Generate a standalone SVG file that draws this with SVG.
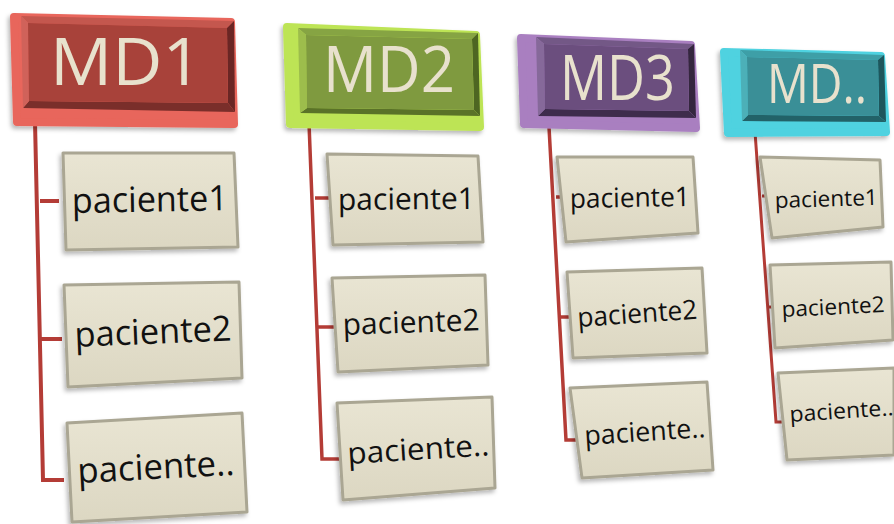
<svg xmlns="http://www.w3.org/2000/svg" width="894" height="524" viewBox="0 0 894 524">
<defs>
<linearGradient id="box" x1="0" y1="0" x2="0" y2="1"><stop offset="0" stop-color="#e9e5d3"/><stop offset="1" stop-color="#dcd7c2"/></linearGradient>
<filter id="sh" x="-10%" y="-10%" width="120%" height="130%"><feDropShadow dx="-2" dy="3" stdDeviation="2" flood-color="#000" flood-opacity="0.28"/></filter>
</defs>
<style>
.ext{stroke-linejoin:round;stroke-width:8;filter:url(#sh)}
.hd{font-family:"Open Sans","Liberation Sans",sans-serif;fill:#e8e1cd}
.box{fill:url(#box);stroke:#aaa693;stroke-width:3;stroke-linejoin:round;filter:url(#sh)}
.bx{font-family:"Open Sans","Liberation Sans",sans-serif;fill:#111}
.con{fill:none;stroke:#b43c36;stroke-linejoin:miter}
</style>

<g id="connectors">
<path class="con" stroke-width="4" d="M35,122 L43,480 L64,480 M40,201 L59,201 M41,339 L62,339"/>
<path class="con" stroke-width="3.5" d="M309,123 L322,459 L342,459 M315,198 L333,198 M318,327 L337,327"/>
<path class="con" stroke-width="3.5" d="M549,127 L566,440 L584,440 M556,197 L570,197 M561,317 L578,317"/>
<path class="con" stroke-width="3" d="M755,132 L776,422 L790,422 M762,196 L775,196 M769,307 L783,307"/>
</g>

<g id="md1">
<path class="ext" fill="#e8665b" stroke="#e8665b" d="M14,17 L231,22 L234,124 L17,122 Z"/>
<polygon fill="#c4574e" points="21,16 234,21 227,28 28,23"/>
<polygon fill="#6a2624" points="234,21 235,112 228,103 227,28"/>
<polygon fill="#7a2e2a" points="235,112 23,108 29,101 228,103"/>
<polygon fill="#d0625a" points="23,108 21,16 28,23 29,101"/>
<polygon fill="#a8423a" points="28,23 227,28 228,103 29,101"/>
<text class="hd" x="50" y="85" font-size="66" textLength="152" lengthAdjust="spacingAndGlyphs">MD1</text>
</g>
<g id="md2">
<path class="ext" fill="#bde455" stroke="#bde455" d="M287,27 L476,35 L480,127 L290,124 Z"/>
<polygon fill="#86a443" points="298,28 478,33 472,39 306,35"/>
<polygon fill="#4e6622" points="478,33 480,116 474,110 472,39"/>
<polygon fill="#5a7228" points="480,116 300,113 307,108 474,110"/>
<polygon fill="#9dbd4c" points="300,113 298,28 306,35 307,108"/>
<polygon fill="#7f9a3f" points="306,35 472,39 474,110 307,108"/>
<text class="hd" x="323" y="92" font-size="64" textLength="132" lengthAdjust="spacingAndGlyphs">MD2</text>
</g>
<g id="md3">
<path class="ext" fill="#a97fc0" stroke="#a97fc0" d="M521,38 L691,45 L696,128 L524,124 Z"/>
<polygon fill="#735886" points="536,37 694,44 688,49 544,44"/>
<polygon fill="#34263e" points="694,44 696,118 689,111 688,49"/>
<polygon fill="#3e2c4c" points="696,118 538,116 545,109 689,111"/>
<polygon fill="#86699a" points="538,116 536,37 544,44 545,109"/>
<polygon fill="#6b4e7e" points="544,44 688,49 689,111 545,109"/>
<text class="hd" x="560" y="100" font-size="62" textLength="115" lengthAdjust="spacingAndGlyphs">MD3</text>
</g>
<g id="md4">
<path class="ext" fill="#4fd2e0" stroke="#4fd2e0" d="M724,52 L881,56 L886,132 L728,133 Z"/>
<polygon fill="#3e9fa7" points="740,50 884,55 878,60 747,57"/>
<polygon fill="#1e565c" points="884,55 886,122 879,116 878,60"/>
<polygon fill="#226268" points="886,122 742,121 748,115 879,116"/>
<polygon fill="#4cb0b8" points="742,121 740,50 747,57 748,115"/>
<polygon fill="#3a8f97" points="747,57 878,60 879,116 748,115"/>
<text class="hd" x="767" y="103" font-size="55" textLength="100" lengthAdjust="spacingAndGlyphs">MD..</text>
</g>

<g id="c1p1"><path class="box" d="M63,153 L234,153 L238,247 L66,250 Z"/>
<text class="bx" x="72" y="213" font-size="35" textLength="156" lengthAdjust="spacingAndGlyphs" transform="rotate(-1 72 213)">paciente1</text></g>
<g id="c1p2"><path class="box" d="M64,285 L239,282 L242,378 L68,387 Z"/>
<text class="bx" x="75" y="347" font-size="35" textLength="157" lengthAdjust="spacingAndGlyphs" transform="rotate(-2.4 75 347)">paciente2</text></g>
<g id="c1p3"><path class="box" d="M67,423 L242,413 L247,512 L72,522 Z"/>
<text class="bx" x="78" y="483" font-size="35" textLength="157" lengthAdjust="spacingAndGlyphs" transform="rotate(-3 78 483)">paciente..</text></g>

<g id="c2p1"><path class="box" d="M327,154 L478,156 L483,242 L333,245 Z"/>
<text class="bx" x="338" y="210" font-size="30" textLength="137" lengthAdjust="spacingAndGlyphs" transform="rotate(-0.5 338 210)">paciente1</text></g>
<g id="c2p2"><path class="box" d="M332,278 L485,275 L488,365 L338,372 Z"/>
<text class="bx" x="343" y="335" font-size="30" textLength="137" lengthAdjust="spacingAndGlyphs" transform="rotate(-2 343 335)">paciente2</text></g>
<g id="c2p3"><path class="box" d="M337,403 L492,397 L495,488 L343,500 Z"/>
<text class="bx" x="348" y="464" font-size="30" textLength="142" lengthAdjust="spacingAndGlyphs" transform="rotate(-3.5 348 464)">paciente..</text></g>

<g id="c3p1"><path class="box" d="M557,157 L693,157 L698,233 L566,242 Z"/>
<text class="bx" x="570" y="208" font-size="27" textLength="120" lengthAdjust="spacingAndGlyphs" transform="rotate(-1 570 208)">paciente1</text></g>
<g id="c3p2"><path class="box" d="M567,272 L702,268 L707,353 L573,358 Z"/>
<text class="bx" x="578" y="327" font-size="27" textLength="120" lengthAdjust="spacingAndGlyphs" transform="rotate(-4 578 327)">paciente2</text></g>
<g id="c3p3"><path class="box" d="M570,388 L707,382 L713,470 L582,478 Z"/>
<text class="bx" x="585" y="445" font-size="27" textLength="121" lengthAdjust="spacingAndGlyphs" transform="rotate(-3.8 585 445)">paciente..</text></g>

<g id="c4p1"><path class="box" d="M760,157 L880,160 L883,227 L772,238 Z"/>
<text class="bx" x="775" y="208" font-size="22" textLength="103" lengthAdjust="spacingAndGlyphs" transform="rotate(-1.7 775 208)">paciente1</text></g>
<g id="c4p2"><path class="box" d="M770,265 L891,262 L893,340 L775,348 Z"/>
<text class="bx" x="782" y="317" font-size="22" textLength="103" lengthAdjust="spacingAndGlyphs" transform="rotate(-2.8 782 317)">paciente2</text></g>
<g id="c4p3"><path class="box" d="M778,373 L894,368 L894,455 L787,460 Z"/>
<text class="bx" x="790" y="422" font-size="22" textLength="104" lengthAdjust="spacingAndGlyphs" transform="rotate(-3.8 790 422)">paciente..</text></g>
</svg>
